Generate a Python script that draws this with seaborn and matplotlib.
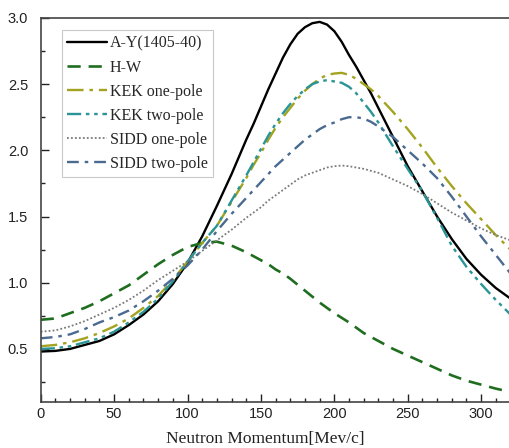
import numpy as np
import pandas as pd
import matplotlib
matplotlib.use('Agg')
import matplotlib.pyplot as plt
from matplotlib.ticker import MultipleLocator
import seaborn as sns

# neutron momentum grid (MeV/c), finer around the peaks
momentum = list(range(0, 140, 10)) + list(range(140, 245, 5)) + list(range(250, 321, 10))

ay_1405 = [0.48, 0.485, 0.50, 0.53, 0.56, 0.61, 0.68, 0.76, 0.86, 0.99, 1.15, 1.35, 1.58, 1.82,
           2.08, 2.20, 2.33, 2.46, 2.58, 2.70, 2.80, 2.88, 2.93, 2.96, 2.97, 2.95, 2.90, 2.82,
           2.72, 2.63, 2.53, 2.43, 2.32, 2.21, 2.10,
           1.88, 1.69, 1.50, 1.33, 1.18, 1.06, 0.96, 0.88]
hw = [0.72, 0.73, 0.77, 0.81, 0.86, 0.92, 0.98, 1.06, 1.14, 1.21, 1.27, 1.30, 1.31, 1.28,
      1.23, 1.20, 1.17, 1.14, 1.10, 1.07, 1.03, 0.985, 0.94, 0.895, 0.85, 0.81, 0.77, 0.735,
      0.70, 0.66, 0.62, 0.59, 0.56, 0.53, 0.50,
      0.45, 0.40, 0.35, 0.30, 0.26, 0.23, 0.20, 0.175]
kek_one = [0.52, 0.53, 0.55, 0.58, 0.62, 0.67, 0.73, 0.81, 0.90, 1.02, 1.16, 1.30, 1.43, 1.61,
           1.79, 1.89, 1.98, 2.08, 2.17, 2.25, 2.32, 2.39, 2.45, 2.50, 2.54, 2.57, 2.58, 2.585,
           2.57, 2.54, 2.50, 2.46, 2.41, 2.35, 2.29,
           2.16, 2.02, 1.87, 1.73, 1.60, 1.48, 1.36, 1.25]
kek_two = [0.50, 0.505, 0.52, 0.55, 0.58, 0.63, 0.70, 0.78, 0.88, 1.01, 1.16, 1.30, 1.43, 1.62,
           1.81, 1.91, 2.01, 2.11, 2.20, 2.28, 2.35, 2.41, 2.46, 2.50, 2.52, 2.53, 2.52, 2.51,
           2.48, 2.43, 2.36, 2.29, 2.21, 2.12, 2.03,
           1.86, 1.69, 1.49, 1.28, 1.12, 0.99, 0.87, 0.76]
sidd_one = [0.63, 0.64, 0.67, 0.71, 0.76, 0.81, 0.87, 0.94, 1.02, 1.09, 1.16, 1.24, 1.32, 1.40,
            1.49, 1.53, 1.57, 1.62, 1.66, 1.70, 1.74, 1.78, 1.81, 1.83, 1.85, 1.87, 1.88, 1.885,
            1.88, 1.87, 1.86, 1.845, 1.83, 1.805, 1.78,
            1.73, 1.67, 1.60, 1.53, 1.47, 1.41, 1.36, 1.32]
sidd_two = [0.58, 0.59, 0.61, 0.65, 0.70, 0.74, 0.79, 0.86, 0.94, 1.03, 1.13, 1.25, 1.39, 1.52,
            1.64, 1.70, 1.76, 1.82, 1.88, 1.93, 1.98, 2.03, 2.08, 2.12, 2.16, 2.19, 2.21, 2.235,
            2.25, 2.25, 2.24, 2.215, 2.18, 2.14, 2.10,
            2.00, 1.90, 1.79, 1.65, 1.50, 1.35, 1.21, 1.07]

labels = ['A-Y(1405-40)', 'H-W', 'KEK one-pole', 'KEK two-pole',
          'SIDD one-pole', 'SIDD two-pole']
series = [ay_1405, hw, kek_one, kek_two, sidd_one, sidd_two]

colors = ['#000000', '#1f6e1f', '#a3a320', '#2a9496', '#7a7a7a', '#4a6a90']
styles = ['-', (0, (5, 3)), (0, (7, 2.5, 1.5, 2.5)), (0, (6, 2, 1.5, 2, 1.5, 2)),
          (0, (1, 1.2)), (0, (5, 2.5, 1.5, 2.5))]
widths = [1.7, 1.9, 1.7, 1.7, 1.3, 1.7]

sns.set_style('ticks')
plt.rcParams['font.family'] = ['Liberation Sans', 'DejaVu Sans']

fig = plt.figure(figsize=(5.09, 4.48), dpi=100)
ax = fig.add_axes([0.08, 0.103, 0.92, 0.857])

for lab, vals, c, ls, lw in zip(labels, series, colors, styles, widths):
    sns.lineplot(x=momentum, y=vals, ax=ax, color=c, linestyle=ls,
                 linewidth=lw, label=lab)

ax.set_xlim(0, 319)
ax.set_ylim(0.1, 3.0)
ax.xaxis.set_major_locator(MultipleLocator(50))
ax.xaxis.set_minor_locator(MultipleLocator(10))
ax.yaxis.set_minor_locator(MultipleLocator(0.25))
ax.set_yticks([0.5, 1.0, 1.5, 2.0, 2.5, 3.0])
ax.set_yticklabels(['0.5', '1.0', '1.5', '2.0', '2.5', '3.0'])
ax.tick_params(which='both', direction='in', top=False, right=False,
               labelsize=10.5, colors='#222222', width=1.0)
ax.tick_params(which='major', length=6)
ax.tick_params(which='minor', length=3)
ax.tick_params(axis='y', pad=9)
for side in ['left', 'bottom', 'top']:
    ax.spines[side].set_color('#444444')
    ax.spines[side].set_linewidth(1.2)
ax.spines['right'].set_visible(False)

ax.set_xlabel('Neutron Momentum[Mev/c]', family='Liberation Serif',
              fontsize=12.5, color='#222222')
ax.xaxis.set_label_coords(0.48, -0.075)
ax.set_ylabel('')

leg = ax.legend(loc='upper left', bbox_to_anchor=(0.045, 0.968),
                prop={'family': 'Liberation Serif', 'size': 11.5},
                frameon=True, fancybox=False, edgecolor='#bbbbbb',
                handlelength=2.5, handletextpad=0.15, labelspacing=0.5,
                borderpad=0.35, borderaxespad=0)
leg.get_frame().set_linewidth(0.8)

fig.savefig('out.png', dpi=100)
